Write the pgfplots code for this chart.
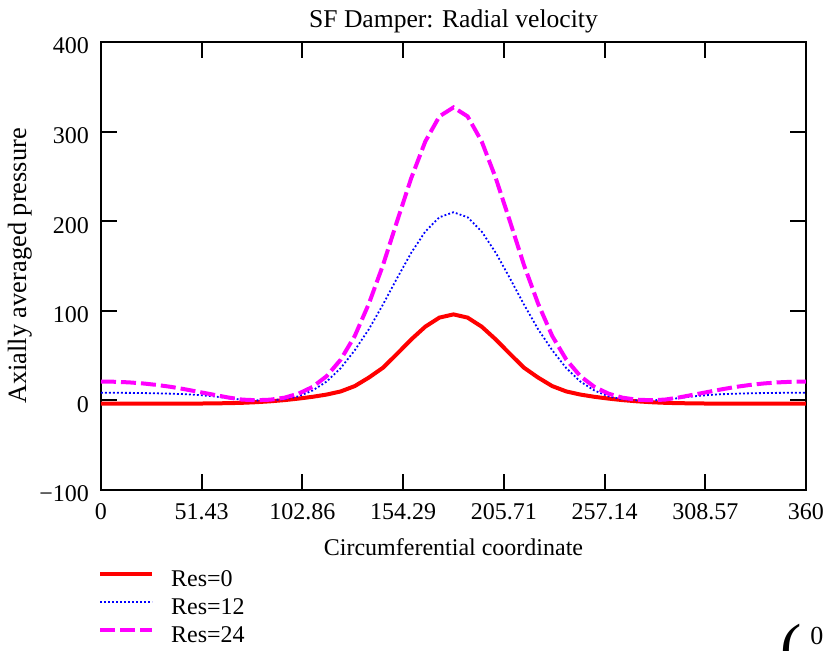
\documentclass[border=0pt]{standalone}
\usepackage{fontspec}
\setmainfont{Liberation Serif}
\usepackage{pgfplots}
\usepackage{pgfplotstable}
\pgfplotsset{compat=1.18}
\definecolor{mag}{RGB}{255,0,255}
\definecolor{rd}{RGB}{255,0,0}
\definecolor{bl}{RGB}{0,0,255}
\pgfplotstableread{
x r b m
0 -3.6 8.5 21.0
7.2 -3.6 8.5 20.8
14.4 -3.6 8.4 20.1
21.6 -3.6 8.2 18.9
28.8 -3.6 7.9 17.2
36 -3.6 7.5 15.0
43.2 -3.5 6.9 12.3
50.4 -3.5 5.9 9.3
57.6 -3.3 4.5 6.3
64.8 -3.1 2.6 3.3
72 -2.7 0.8 0.9
79.2 -2.0 0.0 0.2
86.4 -1.0 0.1 0.8
93.6 0.3 1.2 3.0
100.8 2.0 4.5 7.5
108 4.0 11.0 15.0
115.2 6.5 21.0 27.0
122.4 10.0 36.0 45.5
129.6 16.0 56.0 72.0
136.8 25.5 79.5 108.0
144 36.5 107.0 151.0
151.2 52.0 136.4 200.0
158.4 68.0 164.7 248.0
165.6 82.3 188.5 289.0
172.8 92.4 204.4 317.0
180 96.0 210.0 327.0
187.2 92.4 204.4 317.0
194.4 82.3 188.5 289.0
201.6 68.0 164.7 248.0
208.8 52.0 136.4 200.0
216 36.5 107.0 151.0
223.2 25.5 79.5 108.0
230.4 16.0 56.0 72.0
237.6 10.0 36.0 45.5
244.8 6.5 21.0 27.0
252 4.0 11.0 15.0
259.2 2.0 4.5 7.5
266.4 0.3 1.2 3.0
273.6 -1.0 0.1 0.8
280.8 -2.0 0.0 0.2
288 -2.7 0.8 0.9
295.2 -3.1 2.6 3.3
302.4 -3.3 4.5 6.3
309.6 -3.5 5.9 9.3
316.8 -3.5 6.9 12.3
324 -3.6 7.5 15.0
331.2 -3.6 7.9 17.2
338.4 -3.6 8.2 18.9
345.6 -3.6 8.4 20.1
352.8 -3.6 8.5 20.8
360 -3.6 8.5 21.0
}\data
\begin{document}
\fontsize{12}{14}\selectfont
\begin{tikzpicture}
\path[use as bounding box] (-50.5pt,-80pt) rectangle (363pt,245pt);
\begin{axis}[
  at={(0pt,0pt)}, anchor=south west,
  scale only axis, width=352.5pt, height=224pt,
  xmin=0, xmax=360, ymin=-100, ymax=400,
  xtick={0,51.428571,102.857143,154.285714,205.714286,257.142857,308.571429,360},
  xticklabels={0,51.43,102.86,154.29,205.71,257.14,308.57,360},
  ytick={-100,0,100,200,300,400},
  yticklabels={−100,0,100,200,300,400},
  /pgf/number format/assume math mode=true,
  tick align=inside, major tick length=8pt,
  every tick/.style={black, line width=1pt},
  axis line style={line width=1.3pt},
  xticklabel style={anchor=center, yshift=-10.75pt},
  yticklabel style={anchor=east, xshift=-1.8pt, yshift=-2pt},
  title={SF Damper: Radial velocity},
  title style={at={(axis description cs:0.5,1)}, anchor=base, yshift=1.2pt, inner sep=0pt, font=\fontsize{12.8}{14}\selectfont},
  xlabel={Circumferential coordinate},
  xlabel style={at={(axis description cs:0.5,-0.127)}, anchor=center},
  ylabel={Axially averaged pressure},
  ylabel style={at={(axis description cs:-0.115,0.5)}, anchor=center, font=\fontsize{13.2}{15}\selectfont},
  legend cell align=left,
  legend style={at={(axis description cs:-0.0043,-0.175)}, anchor=north west,
    draw=none, fill=none, inner sep=0pt, row sep=4pt, column sep=7.4pt,
    nodes={inner sep=1pt, text height=8pt, text depth=0pt, anchor=base west}},
  legend image code/.code={\draw[#1] (0pt,6.5pt) -- (26pt,6.5pt);},
]
\addplot[rd, line width=2pt] table[x=x, y=r] {\data};
\addlegendentry{Res=0}
\addplot[bl, line width=0.9pt, dash pattern=on 0.9pt off 1.1pt] table[x=x, y=b] {\data};
\addlegendentry{Res=12}
\addplot[mag, line width=2pt, dash pattern=on 7.5pt off 2.5pt] table[x=x, y=m] {\data};
\addlegendentry{Res=24}
\end{axis}
\node[anchor=north west, inner sep=0pt, font=\fontsize{32}{32}\selectfont] at (339.5pt,-67pt) {(};
\node[anchor=north west, inner sep=0pt, font=\fontsize{13}{13}\selectfont] at (354.5pt,-68.5pt) {0};
\end{tikzpicture}
\end{document}
